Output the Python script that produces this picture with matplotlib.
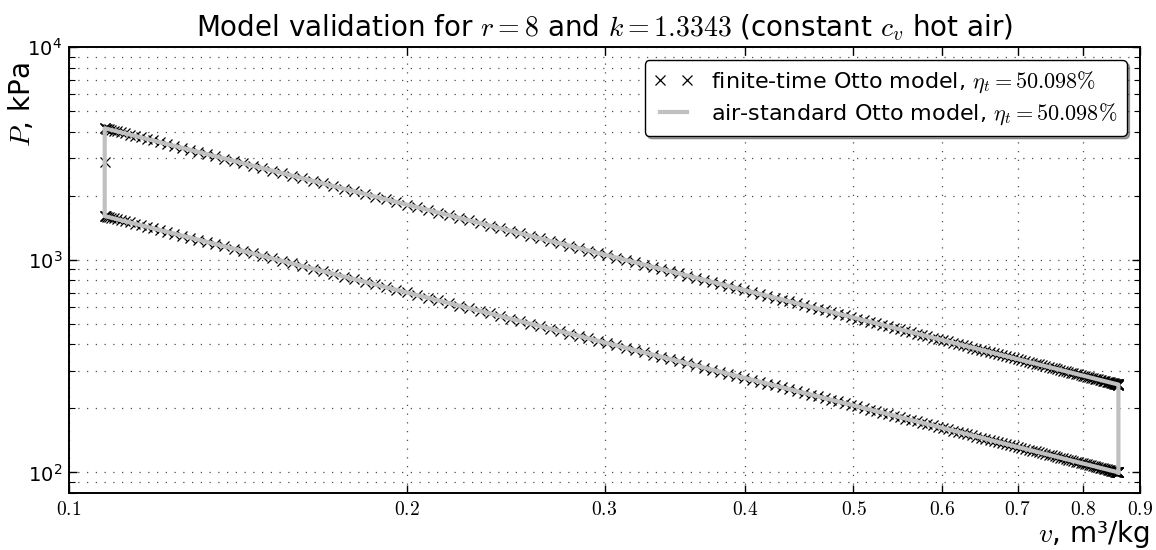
import numpy as np
import matplotlib
matplotlib.use("Agg")
import matplotlib.pyplot as plt

plt.rcParams['mathtext.fontset'] = 'cm'
plt.rcParams['font.family'] = ['DejaVu Sans']

# Cycle parameters (from title)
r = 8
k = 1.3343
eta_t = 50.098  # %

# State points 1-4 of the Otto cycle
v_state = [0.861, 0.1076, 0.1076, 0.861]   # m3/kg
P_state = [100.0, 1603.0, 4150.0, 259.0]  # kPa

# crank steps per stroke for the finite-time model
n_steps = 180

# tick labels
x_ticks = [0.1, 0.2, 0.3, 0.4, 0.5, 0.6, 0.7, 0.8, 0.9]
x_tick_labels = ['$0.1$', '$0.2$', '$0.3$', '$0.4$', '$0.5$', '$0.6$', '$0.7$', '$0.8$', '$0.9$']

# finite-time model: piston position follows the crank angle
theta = np.linspace(0, np.pi, n_steps + 1)
v_comp = v_state[3] - (v_state[0] - v_state[1]) * (1 - np.cos(theta)) / 2
P_comp = P_state[0] * (v_state[0] / v_comp) ** k
v_exp = v_comp[::-1]
P_exp = P_state[2] * (v_state[2] / v_exp) ** k
v_comb = [v_state[1]]
P_comb = [(P_state[1] + P_state[2]) / 2]

v_ft = np.concatenate([v_comp, v_comb, v_exp])
P_ft = np.concatenate([P_comp, P_comb, P_exp])

# air-standard model: closed loop 1-2-3-4-1
v_as = np.concatenate([v_comp, v_exp, [v_state[0]]])
P_as = np.concatenate([P_comp, P_exp, [P_state[0]]])

fig = plt.figure(figsize=(11.56, 5.5), dpi=100)
ax = fig.add_axes([69 / 1156, 57 / 550, 1071 / 1156, 446 / 550])

ax.plot(v_ft, P_ft, 'x', color='k', markersize=7.5, markeredgewidth=0.9,
        label=r'finite-time Otto model, $\eta_t=%.3f\%%$' % eta_t)
ax.plot(v_as, P_as, '-', color='#c0c0c0', linewidth=3,
        label=r'air-standard Otto model, $\eta_t=%.3f\%%$' % eta_t)

ax.set_xscale('log')
ax.set_yscale('log')
ax.set_xlim(0.1, 0.9)
ax.set_ylim(80, 1e4)

ax.set_xticks(x_ticks)
ax.set_xticklabels(x_tick_labels)
ax.xaxis.set_minor_locator(matplotlib.ticker.NullLocator())
ax.yaxis.set_major_formatter(matplotlib.ticker.FuncFormatter(
    lambda y, pos: r'$\mathdefault{10^{%d}}$' % round(np.log10(y))))

ax.tick_params(which='both', direction='in', top=True, right=True, labelsize=14)
ax.tick_params(which='major', length=6, width=1, pad=5)
ax.tick_params(which='minor', length=4, width=0.8)
for s in ax.spines.values():
    s.set_linewidth(1.4)

ax.grid(True, which='both', color='0.3', linestyle=(0, (1, 6)), linewidth=0.9)

ax.set_title(r'Model validation for $r=8$ and $k=1.3343$ (constant $c_v$ hot air)',
             fontsize=20, pad=8)
ax.set_ylabel('$P$, kPa', fontsize=20)
ax.yaxis.set_label_coords(-0.031, 0.87)
ax.set_xlabel('$v$, m³/kg', fontsize=20, ha='right', va='center')
ax.xaxis.set_label_coords(1.009, -0.092)

leg = ax.legend(loc='upper right', fontsize=16, numpoints=2, fancybox=True,
                shadow=True, framealpha=1, labelspacing=0.3, handlelength=1.8,
                borderaxespad=0.6)
leg.get_frame().set_edgecolor('k')
leg.get_frame().set_linewidth(1.0)

fig.savefig('out.png', dpi=100)
